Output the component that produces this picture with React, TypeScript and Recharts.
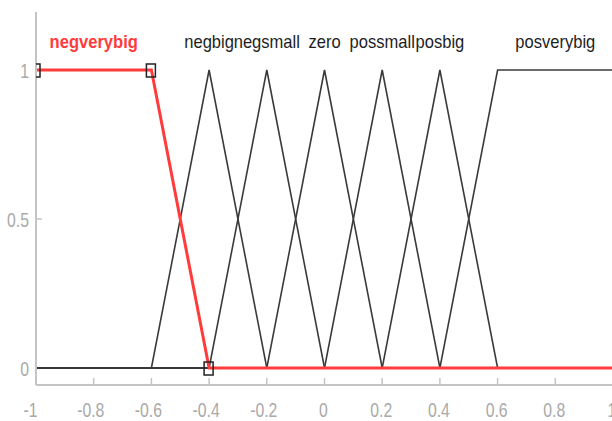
import React from "react";
import { ComposedChart, Line, Scatter, XAxis, YAxis } from "recharts";

const xTicks = [-1, -0.8, -0.6, -0.4, -0.2, 0, 0.2, 0.4, 0.6, 0.8, 1];
const yTicks = [0, 0.5, 1];

const negverybig = [
  { x: -1, y: 1 },
  { x: -0.6, y: 1 },
  { x: -0.4, y: 0 },
  { x: 1, y: 0 },
];
const negbig = [
  { x: -1, y: 0 },
  { x: -0.6, y: 0 },
  { x: -0.4, y: 1 },
  { x: -0.2, y: 0 },
  { x: 1, y: 0 },
];
const negsmall = [
  { x: -1, y: 0 },
  { x: -0.4, y: 0 },
  { x: -0.2, y: 1 },
  { x: 0, y: 0 },
  { x: 1, y: 0 },
];
const zero = [
  { x: -1, y: 0 },
  { x: -0.2, y: 0 },
  { x: 0, y: 1 },
  { x: 0.2, y: 0 },
  { x: 1, y: 0 },
];
const possmall = [
  { x: -1, y: 0 },
  { x: 0, y: 0 },
  { x: 0.2, y: 1 },
  { x: 0.4, y: 0 },
  { x: 1, y: 0 },
];
const posbig = [
  { x: -1, y: 0 },
  { x: 0.2, y: 0 },
  { x: 0.4, y: 1 },
  { x: 0.6, y: 0 },
  { x: 1, y: 0 },
];
const posverybig = [
  { x: -1, y: 0 },
  { x: 0.4, y: 0 },
  { x: 0.6, y: 1 },
  { x: 1, y: 1 },
];

const mfLabels = [
  { x: -0.8, y: 1.075, name: "negverybig", selected: true },
  { x: -0.4, y: 1.075, name: "negbig", selected: false },
  { x: -0.2, y: 1.075, name: "negsmall", selected: false },
  { x: 0, y: 1.075, name: "zero", selected: false },
  { x: 0.2, y: 1.075, name: "possmall", selected: false },
  { x: 0.4, y: 1.075, name: "posbig", selected: false },
  { x: 0.8, y: 1.075, name: "posverybig", selected: false },
];

const blackSeries = [negbig, negsmall, zero, possmall, posbig, posverybig];

const FONT = "'Liberation Sans', Arial, sans-serif";
const TICK_COLOR = "#a9a9a9";
const AXIS_COLOR = "#c4c4c4";

const BottomTick = (props: any) => {
  const { x, y, payload } = props;
  const v = payload.value;
  const edge = v === -1 || v === 1;
  const shift = v === -1 ? -5.5 : v < 0 ? -3 : -1;
  return (
    <g>
      {!edge && <line x1={x} y1={y} x2={x} y2={y - 7} stroke={AXIS_COLOR} strokeWidth={1.5} />}
      <text
        transform={`translate(${x + shift},${y + 32}) scale(0.75,1)`}
        textAnchor="middle"
        fontFamily={FONT}
        fontSize={21}
        fill={TICK_COLOR}
      >
        {String(v)}
      </text>
    </g>
  );
};

const TopTick = (props: any) => {
  const { x, y, payload } = props;
  const v = payload.value;
  if (v === -1 || v === 1) return <g />;
  return <line x1={x} y1={y} x2={x} y2={y + 7} stroke={AXIS_COLOR} strokeWidth={1.5} />;
};

const LeftTick = (props: any) => {
  const { x, y, payload } = props;
  const v = payload.value;
  return (
    <g>
      {v === 0.5 && <line x1={x} y1={y} x2={x + 6} y2={y} stroke={AXIS_COLOR} strokeWidth={1.5} />}
      <text
        transform={`translate(${x - 7},${y + 8}) scale(0.75,1)`}
        textAnchor="end"
        fontFamily={FONT}
        fontSize={21}
        fill={TICK_COLOR}
      >
        {String(v)}
      </text>
    </g>
  );
};

const RightTick = (props: any) => {
  const { x, y, payload } = props;
  if (payload.value !== 0.5) return <g />;
  return <line x1={x} y1={y} x2={x - 6} y2={y} stroke={AXIS_COLOR} strokeWidth={1.5} />;
};

const SquareDot = (props: any) => {
  const { cx, cy, index } = props;
  if (index > 2 || cx == null || cy == null) return <g key={`d${index}`} />;
  return (
    <rect
      key={`d${index}`}
      x={cx - 5}
      y={cy - 6}
      width={9}
      height={13}
      fill="none"
      stroke="#222"
      strokeWidth={1.5}
    />
  );
};

const LabelShape = (props: any) => {
  const { cx, cy, payload } = props;
  return (
    <text
      transform={`translate(${cx},${cy}) scale(0.92,1)`}
      textAnchor="middle"
      fontFamily={FONT}
      fontSize={18}
      fontWeight={payload.selected ? "bold" : "normal"}
      fill={payload.selected ? "#ff3b3b" : "#1e1e1e"}
    >
      {payload.name}
    </text>
  );
};

export default function App() {
  return (
    <div
      style={{
        position: "fixed",
        left: 0,
        top: 0,
        width: 612,
        height: 421,
        overflow: "hidden",
        background: "#ffffff",
      }}
    >
      <ComposedChart
        width={620}
        height={421}
        margin={{ top: 12, right: 7, bottom: 0, left: 0 }}
      >
        <XAxis
          xAxisId="b"
          type="number"
          dataKey="x"
          domain={[-1, 1]}
          ticks={xTicks}
          allowDataOverflow
          orientation="bottom"
          height={36}
          tickSize={0}
          tickMargin={0}
          tickLine={false}
          axisLine={{ stroke: AXIS_COLOR, strokeWidth: 2 }}
          tick={<BottomTick />}
          interval={0}
        />
        <XAxis
          xAxisId="t"
          type="number"
          dataKey="x"
          domain={[-1, 1]}
          ticks={xTicks}
          allowDataOverflow
          orientation="top"
          height={0}
          tickSize={0}
          tickMargin={0}
          tickLine={false}
          axisLine={{ stroke: AXIS_COLOR, strokeWidth: 2 }}
          tick={<TopTick />}
          interval={0}
        />
        <YAxis
          yAxisId="l"
          type="number"
          dataKey="y"
          domain={[-0.057, 1.1946]}
          ticks={yTicks}
          allowDataOverflow
          orientation="left"
          width={36}
          tickSize={0}
          tickMargin={0}
          tickLine={false}
          axisLine={{ stroke: AXIS_COLOR, strokeWidth: 2 }}
          tick={<LeftTick />}
          interval={0}
        />
        <YAxis
          yAxisId="r"
          type="number"
          dataKey="y"
          domain={[-0.057, 1.1946]}
          ticks={yTicks}
          allowDataOverflow
          orientation="right"
          width={0}
          tickSize={0}
          tickMargin={0}
          tickLine={false}
          axisLine={{ stroke: AXIS_COLOR, strokeWidth: 2 }}
          tick={<RightTick />}
          interval={0}
        />
        {blackSeries.map((d, i) => (
          <Line
            key={`mf${i}`}
            xAxisId="b"
            yAxisId="l"
            data={d}
            dataKey="y"
            type="linear"
            stroke="#3a3a3a"
            strokeWidth={1.6}
            dot={false}
            activeDot={false}
            isAnimationActive={false}
          />
        ))}
        <Line
          xAxisId="b"
          yAxisId="l"
          data={negverybig}
          dataKey="y"
          type="linear"
          stroke="#ff3b3b"
          strokeWidth={3}
          dot={SquareDot}
          activeDot={false}
          isAnimationActive={false}
        />
        <Scatter
          xAxisId="b"
          yAxisId="l"
          data={mfLabels}
          dataKey="y"
          shape={LabelShape}
          isAnimationActive={false}
        />
      </ComposedChart>
    </div>
  );
}
